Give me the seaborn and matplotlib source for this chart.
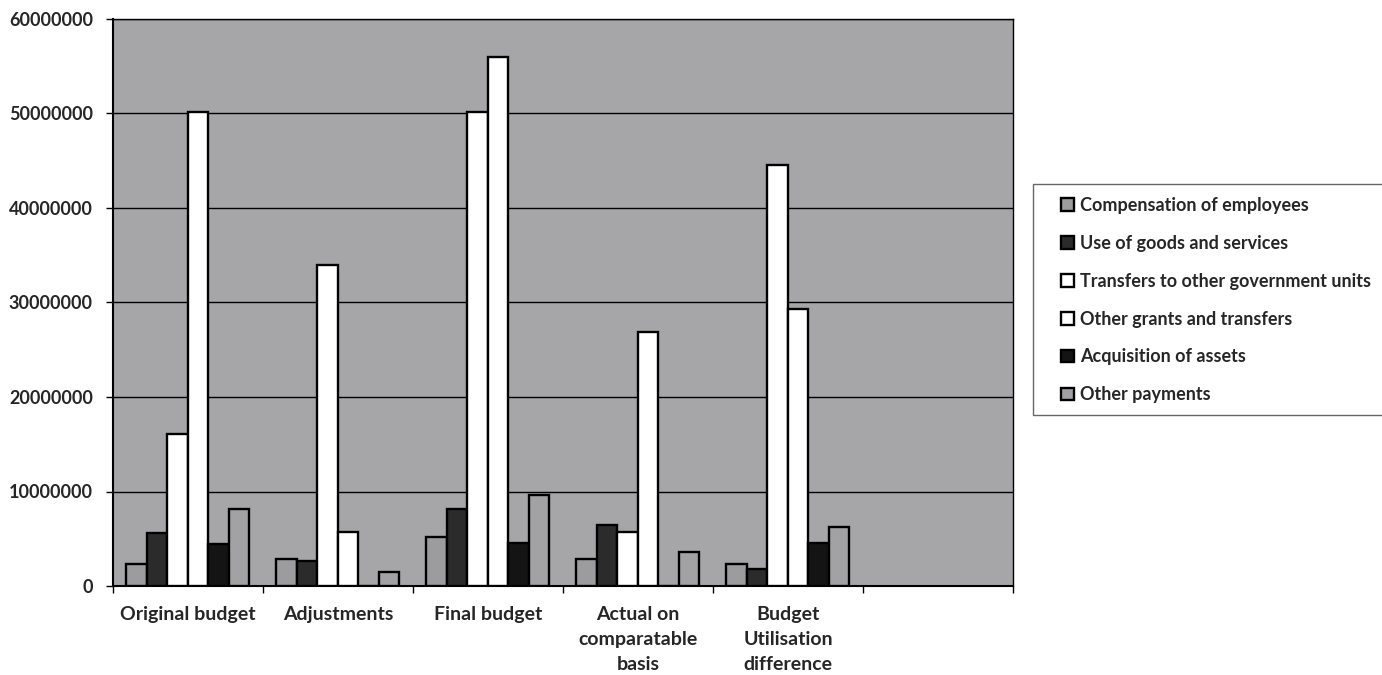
import matplotlib
matplotlib.use("Agg")
import matplotlib.pyplot as plt
import seaborn as sns
import pandas as pd
from matplotlib.patches import Rectangle
from matplotlib.ticker import FixedLocator, MultipleLocator, FuncFormatter

categories = ["Original budget", "Adjustments", "Final budget",
              "Actual on\ncomparatable\nbasis", "Budget\nUtilisation\ndifference", " "]
series = ["Compensation of employees", "Use of goods and services",
          "Transfers to other government units", "Other grants and transfers",
          "Acquisition of assets", "Other payments"]
compensation = [2300000, 2900000, 5150000, 2900000, 2350000, None]
goods_services = [5600000, 2600000, 8100000, 6450000, 1800000, None]
transfers_gov = [16100000, 34000000, 50200000, 5700000, 44500000, None]
other_grants = [50200000, 5700000, 56000000, 26900000, 29300000, None]
acquisition = [4450000, 0, 4500000, 0, 4500000, None]
other_payments = [8200000, 1450000, 9600000, 3550000, 6200000, None]
colors = ["#9c9c9e", "#2b2b2b", "#ffffff", "#ffffff", "#141414", "#a2a2a4"]

values = [compensation, goods_services, transfers_gov, other_grants, acquisition, other_payments]
rows = []
for s, vals in zip(series, values):
    for c, v in zip(categories, vals):
        if v is not None:
            rows.append({"category": c, "series": s, "value": v})
df = pd.DataFrame(rows)

sns.set_theme(style="white")
plt.rcParams['font.family'] = ['Lato', 'DejaVu Sans']
plt.rcParams['font.weight'] = 'bold'

fig = plt.figure(figsize=(13.82, 6.75), dpi=100)
ax = fig.add_axes([113/1382, 1-586/675, 900/1382, 567/675])
ax.set_facecolor("#a6a6a8")

sns.barplot(data=df, x="category", y="value", hue="series", order=categories,
            hue_order=series, palette=colors, width=0.82, edgecolor="black",
            linewidth=1.7, ax=ax, legend=True, saturation=1, zorder=3)

ax.set_xlim(-0.5, len(categories) - 0.5)
ax.set_ylim(0, 60000000)
ax.yaxis.set_major_locator(MultipleLocator(10000000))
ax.yaxis.set_major_formatter(FuncFormatter(lambda v, p: f"{int(v)}"))
ax.grid(axis="y", color="black", linewidth=1.0, zorder=1)
ax.set_axisbelow(True)
ax.set_xlabel("")
ax.set_ylabel("")
ax.set_xticks(range(len(categories)))
ax.set_xticklabels(categories, fontsize=14, fontweight="bold", linespacing=1.55)
ax.xaxis.set_minor_locator(FixedLocator([i - 0.5 for i in range(len(categories) + 1)]))
ax.tick_params(axis="x", which="major", length=0, pad=14.5)
ax.tick_params(axis="x", which="minor", length=5, width=1, color="black", direction="out", bottom=True)
ax.tick_params(axis="y", which="major", length=5, width=1, color="black", direction="out", left=True,
               labelsize=13, pad=9.5)
for lbl in ax.get_yticklabels():
    lbl.set_fontweight("bold")
for sp in ax.spines.values():
    sp.set_color("black")
    sp.set_linewidth(1.0)
ax.spines["left"].set_linewidth(1.5)
ax.spines["bottom"].set_linewidth(1.5)

handles, labels = ax.get_legend_handles_labels()
ax.get_legend().remove()
frame = Rectangle((1033/1382, 1-415/675), 400/1382, 231/675, transform=fig.transFigure,
                  facecolor="white", edgecolor="#666666", linewidth=1.0, zorder=0)
fig.patches.append(frame)
leg = fig.legend(handles, labels, loc="upper left", bbox_to_anchor=(1061/1382, 1-197/675),
                 frameon=False, fontsize=13, handlelength=0.7, handleheight=0.7,
                 handletextpad=0.35, labelspacing=1.155, borderpad=0, borderaxespad=0)
for t in leg.get_texts():
    t.set_fontweight("bold")

fig.savefig("out.png", dpi=100, facecolor="white")
